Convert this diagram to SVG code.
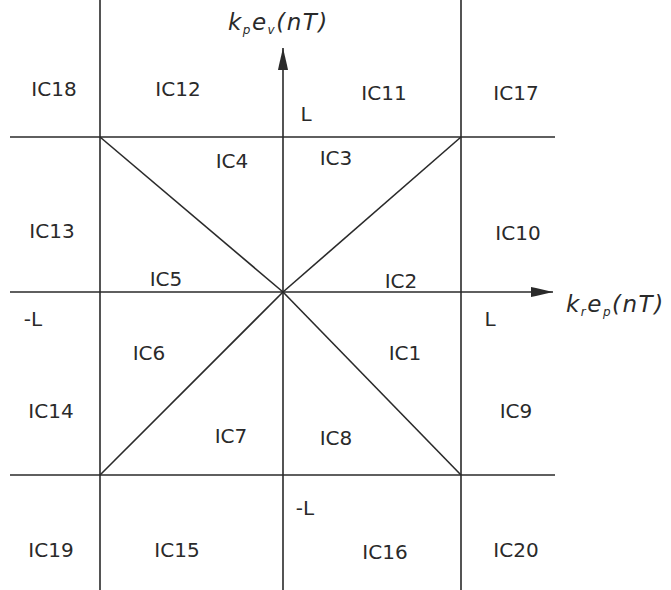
<svg xmlns="http://www.w3.org/2000/svg" width="671" height="590" viewBox="0 0 671 590">
<defs>
<style>
.ln{stroke:#2a2a2a;stroke-width:1.6;fill:none}
.t{font-family:"DejaVu Sans",sans-serif;font-size:20px;fill:#2a2a2a;text-anchor:middle}
.ax{font-family:"DejaVu Sans",sans-serif;font-size:23px;font-style:italic;fill:#2a2a2a;letter-spacing:1.5px}
.sub{font-size:12px}
</style>
<marker id="arr" viewBox="0 0 22 14" refX="22" refY="7" markerWidth="22" markerHeight="14" markerUnits="userSpaceOnUse" orient="auto">
<path d="M0,2 L5,3 L22,7 L5,11 L0,12 Z" fill="#2a2a2a"/>
</marker>
</defs>
<rect width="671" height="590" fill="#fff"/>
<g id="connectors">
<line class="ln" x1="100" y1="0" x2="100" y2="590"/>
<line class="ln" x1="461" y1="0" x2="461" y2="590"/>
<line class="ln" x1="10" y1="137" x2="555" y2="137"/>
<line class="ln" x1="10" y1="475" x2="555" y2="475"/>
<line class="ln" x1="100" y1="137" x2="283" y2="292"/>
<line class="ln" x1="461" y1="137" x2="283" y2="292"/>
<line class="ln" x1="100" y1="475" x2="283" y2="292"/>
<line class="ln" x1="461" y1="475" x2="283" y2="292"/>
<line class="ln" x1="283" y1="590" x2="283" y2="48" marker-end="url(#arr)"/>
<line class="ln" x1="10" y1="292" x2="553" y2="292" marker-end="url(#arr)"/>
</g>
<g id="axis-v"><text class="ax" x="228" y="30">k<tspan class="sub" dy="4">p</tspan><tspan dy="-4">e</tspan><tspan class="sub" dy="4">v</tspan><tspan dy="-4">(nT)</tspan></text></g>
<g id="axis-h"><text class="ax" x="566" y="312">k<tspan class="sub" dy="4">r</tspan><tspan dy="-4">e</tspan><tspan class="sub" dy="4">p</tspan><tspan dy="-4">(nT)</tspan></text></g>
<g id="IC18"><text class="t" x="54" y="96">IC18</text></g>
<g id="IC12"><text class="t" x="178" y="96">IC12</text></g>
<g id="IC11"><text class="t" x="384" y="100">IC11</text></g>
<g id="IC17"><text class="t" x="516" y="100">IC17</text></g>
<g id="L-top"><text class="t" x="306" y="121">L</text></g>
<g id="IC4"><text class="t" x="232" y="168">IC4</text></g>
<g id="IC3"><text class="t" x="336" y="165">IC3</text></g>
<g id="IC13"><text class="t" x="52" y="238">IC13</text></g>
<g id="IC10"><text class="t" x="518" y="240">IC10</text></g>
<g id="IC5"><text class="t" x="166" y="286">IC5</text></g>
<g id="IC2"><text class="t" x="401" y="288">IC2</text></g>
<g id="L-left"><text class="t" x="33" y="326">-L</text></g>
<g id="L-right"><text class="t" x="490" y="326">L</text></g>
<g id="IC6"><text class="t" x="149" y="360">IC6</text></g>
<g id="IC1"><text class="t" x="405" y="360">IC1</text></g>
<g id="IC14"><text class="t" x="51" y="418">IC14</text></g>
<g id="IC9"><text class="t" x="516" y="418">IC9</text></g>
<g id="IC7"><text class="t" x="231" y="443">IC7</text></g>
<g id="IC8"><text class="t" x="336" y="445">IC8</text></g>
<g id="L-bottom"><text class="t" x="305" y="515">-L</text></g>
<g id="IC19"><text class="t" x="51" y="557">IC19</text></g>
<g id="IC15"><text class="t" x="177" y="557">IC15</text></g>
<g id="IC16"><text class="t" x="385" y="559">IC16</text></g>
<g id="IC20"><text class="t" x="516" y="557">IC20</text></g>
</svg>
